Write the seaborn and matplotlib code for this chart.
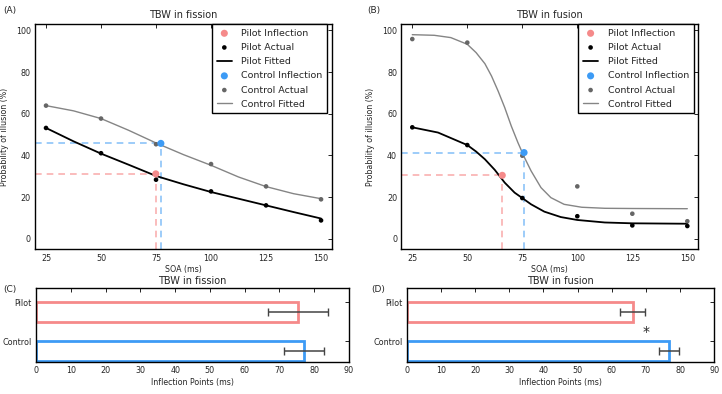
import numpy as np
import pandas as pd
import matplotlib
matplotlib.use("Agg")
import matplotlib.pyplot as plt
import seaborn as sns

# ---- data ----
soa = [25, 50, 75, 100, 125, 150]

# (A) fission
pilot_actual_a = [53.2, 41.1, 28.4, 22.8, 16.1, 8.9]
control_actual_a = [63.9, 57.7, 45.4, 35.9, 25.2, 19.0]
fit_x_a = [25, 37.5, 50, 62.5, 75, 87.5, 100, 112.5, 125, 137.5, 150]
pilot_fit_a = [53.2, 46.8, 40.9, 35.6, 30.2, 26.2, 22.5, 19.3, 16.1, 12.9, 9.8]
control_fit_a = [63.9, 61.4, 57.7, 52.1, 46.0, 40.4, 35.3, 29.7, 25.1, 21.7, 19.3]
pilot_infl_a = (74.9, 31.2)
control_infl_a = (77.2, 45.8)

# (B) fusion
pilot_actual_b = [53.5, 45.0, 19.6, 10.9, 6.5, 6.2]
control_actual_b = [95.8, 94.1, 39.9, 25.2, 12.1, 8.5]
pilot_fit_x_b = [25, 36.7, 50, 54, 58, 62.5, 67, 71.5, 75, 79, 85, 92.5, 100, 112.5, 125, 137.5, 150]
pilot_fit_b = [53.5, 51.0, 45.0, 41.9, 38.2, 33.1, 27.0, 22.2, 19.6, 16.6, 13.1, 10.5, 9.1,
               7.9, 7.5, 7.4, 7.3]
control_fit_x_b = [25, 35, 42.5, 50, 54, 58, 61, 64, 67, 70, 73, 76, 79, 83.5, 88, 94, 102,
                   112.5, 125, 150]
control_fit_b = [97.9, 97.6, 96.5, 93.3, 89.3, 84.0, 78.1, 70.9, 63.0, 54.1, 46.2, 39.0, 32.6,
                 24.6, 19.8, 16.6, 15.2, 14.7, 14.6, 14.5]
pilot_infl_b = (65.9, 30.5)
control_infl_b = (75.8, 41.4)

# (C)/(D) inflection points
groups = ["Pilot", "Control"]
infl_fission = [75.3, 77.0]
err_fission = [8.6, 5.8]
infl_fusion = [66.2, 76.8]
err_fusion = [3.65, 2.9]

# ---- style ----
pilot_c = "#f58a8a"
control_c = "#3d9bf5"
pilot_dash = "#f9b0b0"
control_dash = "#8cc4f8"

sns.set_style("white")
plt.rcParams["font.family"] = ["DejaVu Sans"]

fig = plt.figure(figsize=(7.22, 3.94), dpi=100)


def style_axes(ax):
    ax.tick_params(direction="in", top=True, right=True, labelsize=5.8,
                   length=3, width=0.6, color="black", pad=3)
    for s in ax.spines.values():
        s.set_color("black")
        s.set_linewidth(1.0)


def curve_panel(ax, title, p_act, c_act, p_fx, p_fy, c_fx, c_fy, p_inf, c_inf):
    x0, y0 = 20, -5
    # dashed guides to the inflection points
    ax.hlines(p_inf[1], x0, p_inf[0], colors=pilot_dash, linestyles=(0, (4, 3)), lw=1.2)
    ax.vlines(p_inf[0], y0, p_inf[1], colors=pilot_dash, linestyles=(0, (4, 3)), lw=1.2)
    ax.hlines(c_inf[1], x0, c_inf[0], colors=control_dash, linestyles=(0, (4, 3)), lw=1.2)
    ax.vlines(c_inf[0], y0, c_inf[1], colors=control_dash, linestyles=(0, (4, 3)), lw=1.2)

    sns.scatterplot(x=[p_inf[0]], y=[p_inf[1]], ax=ax, color=pilot_c, s=26,
                    edgecolor="none", label="Pilot Inflection", zorder=5)
    sns.scatterplot(x=soa, y=p_act, ax=ax, color="black", s=11,
                    edgecolor="none", label="Pilot Actual", zorder=4)
    sns.lineplot(x=p_fx, y=p_fy, ax=ax, color="black", lw=1.3,
                 label="Pilot Fitted", zorder=3)
    sns.scatterplot(x=[c_inf[0]], y=[c_inf[1]], ax=ax, color=control_c, s=26,
                    edgecolor="none", label="Control Inflection", zorder=5)
    sns.scatterplot(x=soa, y=c_act, ax=ax, color="#666666", s=11,
                    edgecolor="none", label="Control Actual", zorder=4)
    sns.lineplot(x=c_fx, y=c_fy, ax=ax, color="#858585", lw=1.0,
                 label="Control Fitted", zorder=3)

    ax.set_xlim(20, 155)
    ax.set_ylim(-5, 103)
    ax.set_xticks(soa)
    ax.set_yticks([0, 20, 40, 60, 80, 100])
    ax.set_title(title, fontsize=7, pad=4)
    ax.set_xlabel("SOA (ms)", fontsize=5.7, labelpad=2)
    ax.set_ylabel("Probability of illusion (%)", fontsize=5.7, labelpad=5)
    style_axes(ax)
    leg = ax.legend(loc="upper right", bbox_to_anchor=(0.984, 1.0), borderaxespad=0,
                    fontsize=6.8, frameon=True, fancybox=False, framealpha=1,
                    edgecolor="black", handlelength=1.6, handletextpad=1.0,
                    labelspacing=0.55, borderpad=0.5)
    leg.get_frame().set_linewidth(1.0)


def bar_panel(ax, title, vals, errs, star=False):
    df = pd.DataFrame({"group": groups, "value": vals})
    sns.barplot(data=df, x="value", y="group", hue="group", orient="h",
                palette={"Pilot": pilot_c, "Control": control_c}, fill=False,
                width=0.5, linewidth=2, legend=False, ax=ax)
    ax.errorbar(vals, [0, 1], xerr=errs, fmt="none", ecolor="#444444",
                elinewidth=1.1, capsize=3, capthick=1.0, zorder=5)
    if star:
        ax.text(70, 0.52, "*", fontsize=10, ha="center", va="center")
    ax.set_xlim(0, 90)
    ax.set_xticks(range(0, 91, 10))
    ax.set_yticks([-0.25, 0.75])
    ax.set_yticklabels(groups)
    ax.set_ylim(1.28, -0.6)
    ax.set_title(title, fontsize=7, pad=3)
    ax.set_xlabel("Inflection Points (ms)", fontsize=5.7, labelpad=2)
    ax.set_ylabel("")
    style_axes(ax)


ax_a = fig.add_axes([0.0485, 0.367, 0.4114, 0.572])
ax_b = fig.add_axes([0.5558, 0.367, 0.4114, 0.572])
ax_c = fig.add_axes([0.0499, 0.0805, 0.4335, 0.188])
ax_d = fig.add_axes([0.5633, 0.0805, 0.4260, 0.188])

curve_panel(ax_a, "TBW in fission", pilot_actual_a, control_actual_a,
            fit_x_a, pilot_fit_a, fit_x_a, control_fit_a, pilot_infl_a, control_infl_a)
curve_panel(ax_b, "TBW in fusion", pilot_actual_b, control_actual_b,
            pilot_fit_x_b, pilot_fit_b, control_fit_x_b, control_fit_b,
            pilot_infl_b, control_infl_b)
bar_panel(ax_c, "TBW in fission", infl_fission, err_fission)
bar_panel(ax_d, "TBW in fusion", infl_fusion, err_fusion, star=True)

fig.text(0.004, 0.985, "(A)", fontsize=6.5, va="top")
fig.text(0.509, 0.985, "(B)", fontsize=6.5, va="top")
fig.text(0.004, 0.277, "(C)", fontsize=6.5, va="top")
fig.text(0.514, 0.277, "(D)", fontsize=6.5, va="top")

fig.savefig("out.png", dpi=100)
